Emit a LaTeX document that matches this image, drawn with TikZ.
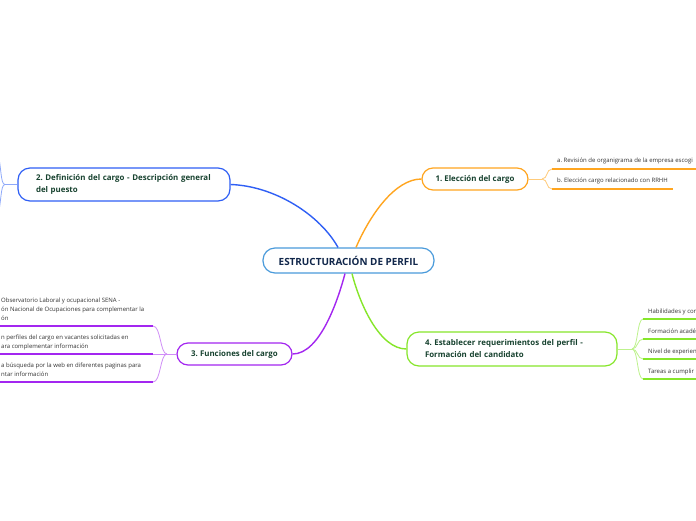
\documentclass[tikz,border=0pt]{standalone}
\usepackage{fontspec}
\setmainfont{Open Sans}
\definecolor{cblue}{HTML}{2F5FF5}
\definecolor{cbluel}{HTML}{8EA9FA}
\definecolor{corange}{HTML}{FFA51F}
\definecolor{corangel}{HTML}{FFCB7A}
\definecolor{cpurple}{HTML}{A326F0}
\definecolor{cpurplel}{HTML}{D08EF7}
\definecolor{cgreen}{HTML}{86E62A}
\definecolor{cgreenl}{HTML}{BDF28C}
\definecolor{ccenter}{HTML}{4A9BDB}
\definecolor{titletxt}{HTML}{17422F}
\definecolor{centertxt}{HTML}{10264A}
\definecolor{subtxtcol}{HTML}{333333}
\frenchspacing
\begin{document}
\begin{tikzpicture}[x=1pt,y=-1pt,
  topic/.style={draw=#1, line width=1.2pt, rounded corners=11pt, fill=white,
    font=\fontsize{7.9}{12}\selectfont\bfseries, text=titletxt, inner ysep=0pt},
  centerbox/.style={draw=ccenter, line width=1.2pt, rounded corners=12pt, fill=white,
    font=\fontsize{9.9}{12}\selectfont\bfseries, text=centertxt, inner sep=0pt,
    minimum width=171pt, minimum height=25pt},
  conn/.style={draw=#1, line width=1.4pt},
  twig/.style={draw=#1, line width=0.8pt},
  uline/.style={draw=#1, line width=1.8pt},
  subtxt/.style={font=\fontsize{6}{9}\selectfont, text=subtxtcol, inner sep=0pt,
    anchor=south west, align=left}
]
\useasboundingbox (0,0) rectangle (696,520);
\clip (0,0) rectangle (696,520);
\fill[white] (0,0) rectangle (696,520);

% central
\node[centerbox] (c) at (348.5,260.5) {ESTRUCTURACIÓN DE PERFIL};

% topics
\node[topic=corange, minimum width=106pt, minimum height=22pt, inner xsep=0pt] (n1) at (475,179) {1. Elección del cargo};
\node[topic=cblue, rounded corners=12pt, minimum height=33pt, inner xsep=18pt, text width=176pt, align=left] (n2) at (124,184.5) {\mbox{2. Definición del cargo - Descripción general}\\del puesto};
\node[topic=cpurple, minimum width=115pt, minimum height=22pt, inner xsep=0pt] (n3) at (234.5,354) {3. Funciones del cargo};
\node[topic=cgreen, rounded corners=12pt, minimum height=34pt, inner xsep=18pt, text width=174pt, align=left] (n4) at (512,349) {\mbox{4. Establecer requerimientos del perfil -}\\Formación del candidato};

% main connectors
\draw[conn=cblue] ([xshift=-10.5pt]c.north) .. controls (320,215) and (275,186) .. (n2.east);
\draw[conn=corange] ([xshift=7.5pt]c.north) .. controls (370,215) and (395,179) .. (n1.west);
\draw[conn=cpurple] ([xshift=-3.5pt]c.south) .. controls (338,300) and (320,354) .. (n3.east);
\draw[conn=cgreen] ([xshift=3.5pt]c.south) .. controls (360,305) and (380,349) .. (n4.west);

% branch 1 (orange)
\coordinate (j1) at (542,179);
\coordinate (u1a) at (552,169); \coordinate (u1ae) at (700,169);
\coordinate (u1b) at (552,189); \coordinate (u1be) at (673,189);
\draw[twig=corangel] (n1.east) -- (j1);
\draw[twig=corangel] (j1) .. controls (548,179) and (546,169) .. (u1a);
\draw[twig=corangel] (j1) .. controls (548,179) and (546,189) .. (u1b);
\draw[uline=corange] (u1a) -- (u1ae);
\draw[uline=corange] (u1b) -- (u1be);
\node[subtxt] (t1a) at (557,165.5) {a. Revisión de organigrama de la empresa escogi\strut};
\node[subtxt] (t1b) at (557,185.5) {b. Elección cargo relacionado con RRHH\strut};

% branch 2 (blue, off canvas)
\coordinate (j2) at (5,184.5);
\coordinate (u2a) at (-4,145);
\coordinate (u2b) at (-4,224);
\draw[twig=cbluel] (n2.west) -- (j2);
\draw[twig=cbluel] (j2) .. controls (0,184.5) and (2,165) .. (u2a);
\draw[twig=cbluel] (j2) .. controls (0,184.5) and (2,204) .. (u2b);

% branch 3 (purple)
\coordinate (j3) at (167,354);
\coordinate (u3a) at (153,326); \coordinate (u3as) at (-4,326);
\coordinate (u3b) at (153,354); \coordinate (u3bs) at (-4,354);
\coordinate (u3c) at (153,382); \coordinate (u3cs) at (-4,382);
\draw[twig=cpurplel] (n3.west) -- (j3);
\draw[twig=cpurplel] (j3) .. controls (160,354) and (161,326) .. (u3a);
\draw[twig=cpurplel] (j3) -- (u3b);
\draw[twig=cpurplel] (j3) .. controls (160,354) and (161,382) .. (u3c);
\draw[uline=cpurple] (u3as) -- (u3a);
\draw[uline=cpurple] (u3bs) -- (u3b);
\draw[uline=cpurple] (u3cs) -- (u3c);
\node[subtxt] (t3a) at (1,323) {Observatorio Laboral y ocupacional SENA -\\ón Nacional de Ocupaciones para complementar la\\ón\strut};
\node[subtxt] (t3b) at (1,351) {n perfiles del cargo en vacantes solicitadas en\\ara complementar información\strut};
\node[subtxt] (t3c) at (1,379) {a búsqueda por la web en diferentes paginas para\\ntar información\strut};

% branch 4 (green)
\coordinate (j4) at (632,349);
\coordinate (u4a) at (643,319); \coordinate (u4ae) at (700,319);
\coordinate (u4b) at (643,339); \coordinate (u4be) at (700,339);
\coordinate (u4c) at (643,359); \coordinate (u4ce) at (700,359);
\coordinate (u4d) at (643,379); \coordinate (u4de) at (700,379);
\draw[twig=cgreenl] (n4.east) -- (j4);
\draw[twig=cgreenl] (j4) .. controls (638,349) and (637,319) .. (u4a);
\draw[twig=cgreenl] (j4) .. controls (638,349) and (637,339) .. (u4b);
\draw[twig=cgreenl] (j4) .. controls (638,349) and (637,359) .. (u4c);
\draw[twig=cgreenl] (j4) .. controls (638,349) and (637,379) .. (u4d);
\draw[uline=cgreen] (u4a) -- (u4ae);
\draw[uline=cgreen] (u4b) -- (u4be);
\draw[uline=cgreen] (u4c) -- (u4ce);
\draw[uline=cgreen] (u4d) -- (u4de);
\node[subtxt] (t4a) at (648,316) {Habilidades y con\strut};
\node[subtxt] (t4b) at (648,336) {Formación acadé\strut};
\node[subtxt] (t4c) at (648,356) {Nivel de experien\strut};
\node[subtxt] (t4d) at (648,376) {Tareas a cumplir\strut};
\end{tikzpicture}
\end{document}
